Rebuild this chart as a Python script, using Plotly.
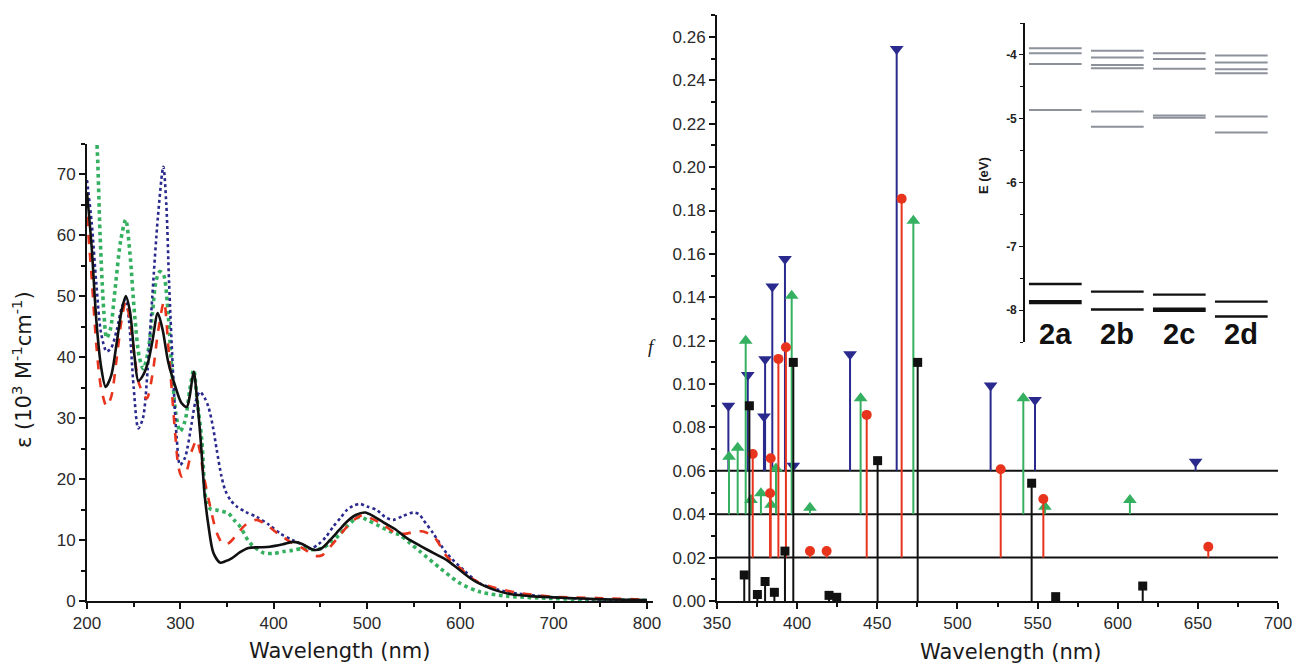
import plotly.graph_objects as go

# ---------------- Left panel: absorption spectra ----------------
wl_2a = [200, 205, 210, 215, 220, 226, 232, 237, 241.5, 246, 251, 255, 260, 265.7, 270, 275.8, 281, 287, 295, 301,
         306.8, 310, 314.3, 318, 322, 326, 330, 335.4, 342.5, 348, 355, 364, 372.9, 385, 396, 410, 421, 430, 442.6,
         451, 460.5, 470, 478.4, 488, 498, 508, 517.6, 530, 542.7, 560, 572, 585.5, 600, 614, 627, 639, 655, 675,
         700, 730, 760, 800]
eps_2a = [67, 58, 46, 38.5, 35.1, 37, 42.5, 47.5, 50.0, 47.5, 40, 36.1, 37, 39.3, 42.5, 47.2, 44.5, 39.2, 35, 32.5,
          31.8, 33.5, 37.6, 33, 26, 17.5, 12.5, 7.9, 6.3, 6.5, 7.0, 8.0, 8.7, 8.8, 8.9, 9.3, 9.7, 9.4, 8.4,
          8.6, 10.0, 11.6, 13.0, 14.1, 14.5, 13.8, 12.9, 11.8, 10.3, 8.8, 7.8, 6.7, 5.0, 3.4, 2.4, 1.7, 1.1, 0.8,
          0.6, 0.4, 0.25, 0.15]

wl_2b = [200, 205, 210, 215, 221, 226, 232, 237, 241.5, 246, 251, 256, 264, 270, 276, 282.5, 287, 294.3, 298, 301.5,
         306, 312, 317.6, 321, 324.7, 332, 339, 346, 352, 360, 370, 381.9, 392, 406.9, 420, 431.8, 444.4, 452, 464,
         472, 481.9, 490, 496.1, 505, 517.6, 530, 540, 550, 560.4, 573, 585.5, 599.8, 617.6, 639, 664, 700, 746, 800]
eps_2b = [63, 53, 42, 35, 31.9, 33.5, 40, 46, 49.1, 46, 40, 35.5, 33.2, 37, 44, 49.1, 42, 27.8, 22, 20.4,
          21, 24.5, 26.4, 24.5, 20.9, 15.5, 11.2, 9.3, 9.5, 10.8, 12.5, 13.3, 12.5, 10.8, 9.5, 8.6, 7.4, 7.5, 9.5,
          11, 12.7, 13.7, 14.1, 13.5, 12.5, 11.2, 11.0, 11.3, 11.4, 10.3, 7.3, 5.4, 3.2, 2.1, 1.3, 0.7, 0.5, 0.2]

wl_2c = [203, 206, 210.4, 214, 218, 221, 225, 230, 236, 241.5, 246, 251, 256, 260.3, 265, 270, 274, 278, 282, 286,
         290, 295, 299.7, 305, 310, 314.3, 318, 323, 328.3, 333, 339, 345, 351.4, 358, 364, 374.7, 389, 400, 410.4,
         420, 431.8, 442.6, 451, 460.5, 470, 478.4, 486, 492.6, 500, 510.5, 524.8, 535.5, 546, 557, 578.3, 599.8,
         621, 650, 685, 740, 800]
eps_2c = [90, 82, 75.6, 60, 47.5, 43.1, 44.5, 51, 59, 62.5, 57, 47, 40, 38.1, 40.5, 47, 52.5, 54, 53.5, 49,
          40, 31, 27.8, 29.5, 34.5, 37.9, 33, 26.4, 16.0, 15, 14.9, 14.7, 14.4, 13.2, 12.2, 9.5, 7.9, 7.8, 8.1,
          8.3, 8.6, 8.4, 8.6, 9.5, 10.8, 12.2, 13.3, 13.8, 13.3, 12.5, 11.4, 10.8, 9.5, 8.1, 5.4, 2.9,
          1.5, 0.8, 0.5, 0.2, 0.1]

wl_2d = [200, 205, 210, 215, 221, 226, 232, 237, 241.5, 245, 250, 255, 260, 265, 270, 276, 281.8, 285, 288, 292,
         296, 299.7, 305, 312, 316, 321, 326, 330, 335, 339, 344, 348, 354, 360.4, 370, 381.9, 395, 406.9, 420,
         431.8, 439, 448, 456, 464, 472, 478.4, 485, 492.6, 500, 510.5, 520, 528.3, 538, 549.7, 556, 560.4, 571,
         585.5, 603.4, 621, 650, 692.7, 740, 800]
eps_2d = [69, 62, 52, 44, 40.9, 41.5, 44.5, 48, 49.5, 46, 35, 28.3, 30, 38, 50, 63, 71.2, 65, 52, 38,
          27, 22.3, 23.5, 29, 32.5, 34.3, 33.3, 31.9, 28.5, 24.8, 20.5, 18.2, 16.5, 15.5, 14.6, 13.8, 12.5, 11.1, 10.0,
          9.2, 8.6, 9.3, 10.5, 12.2, 13.7, 14.9, 15.6, 15.9, 15.5, 14.9, 13.7, 13.3, 13.9, 14.5, 14.2, 13.3, 11.1,
          7.8, 5.1, 2.9, 1.5, 0.7, 0.3, 0.1]

# ---------------- Right panel: calculated transitions ----------------
baselines = [0.0, 0.02, 0.04, 0.06]

ex_2a = [367.0, 370.2, 375.2, 380.0, 385.8, 392.4, 397.6, 419.9, 424.7, 450.2, 475.2, 546.3, 561.3, 615.6]
f_2a = [0.012, 0.090, 0.003, 0.009, 0.004, 0.023, 0.110, 0.0026, 0.0017, 0.0647, 0.110, 0.0543, 0.002, 0.0069]

ex_2b = [372.3, 383.1, 383.5, 388.3, 393.0, 408.0, 418.4, 443.4, 465.2, 527.0, 553.6, 656.5]
f_2b = [0.0478, 0.0297, 0.0458, 0.0916, 0.097, 0.003, 0.003, 0.0658, 0.1654, 0.0407, 0.027, 0.005]

ex_2c = [357.5, 362.9, 367.9, 371.2, 377.4, 383.7, 386.8, 396.6, 408.0, 439.6, 472.5, 541.1, 554.6, 607.6]
f_2c = [0.0265, 0.0307, 0.080, 0.0066, 0.0097, 0.0044, 0.0211, 0.1007, 0.003, 0.0535, 0.1353, 0.0535, 0.0035, 0.0066]

ex_2d = [357.1, 369.2, 379.3, 380.0, 384.5, 392.4, 397.6, 433.0, 462.1, 520.7, 548.4, 648.6]
f_2d = [0.030, 0.0442, 0.025, 0.0515, 0.085, 0.0976, 0.0024, 0.0537, 0.1945, 0.0393, 0.0327, 0.0042]

# ---------------- Inset: orbital energies ----------------
compounds = ["2a", "2b", "2c", "2d"]
lumo_levels = [[-3.895, -3.973, -4.141, -4.862],
               [-3.933, -4.042, -4.157, -4.209, -4.888, -5.128],
               [-3.973, -4.063, -4.219, -4.95, -4.985],
               [-4.01, -4.12, -4.225, -4.287, -4.967, -5.218]]
homo_levels = [[-7.59, -7.86, -7.89],
               [-7.71, -7.99],
               [-7.757, -7.98, -8.01],
               [-7.867, -8.10]]
energy_ticks = [-8, -7, -6, -5, -4]
energy_tick_labels = ["-8", "-7", "-6", "-5", "-4"]

C_BLACK = "#111111"
C_RED = "#E8341C"
C_GREEN = "#35B060"
C_BLUE = "#2A2A8E"
C_GRAY = "#8C919A"

fig = go.Figure()

# Left panel curves
for wl, ep, col, dash, w in [(wl_2c, eps_2c, C_GREEN, "dot", 3.6),
                             (wl_2d, eps_2d, C_BLUE, "dot", 2.6),
                             (wl_2b, eps_2b, C_RED, "dash", 2.6),
                             (wl_2a, eps_2a, C_BLACK, "solid", 2.6)]:
    fig.add_trace(go.Scatter(x=wl, y=ep, mode="lines",
                             line=dict(color=col, dash=dash, width=w, shape="spline", smoothing=0.8),
                             xaxis="x", yaxis="y", showlegend=False, hoverinfo="skip"))

# Right panel: baselines
for b in baselines[1:]:
    fig.add_trace(go.Scatter(x=[350, 700], y=[b, b], mode="lines",
                             line=dict(color=C_BLACK, width=2),
                             xaxis="x2", yaxis="y2", showlegend=False, hoverinfo="skip"))

series = [(ex_2d, f_2d, baselines[3], C_BLUE, "triangle-down", 12),
          (ex_2c, f_2c, baselines[2], C_GREEN, "triangle-up", 12),
          (ex_2b, f_2b, baselines[1], C_RED, "circle", 10),
          (ex_2a, f_2a, baselines[0], C_BLACK, "square", 9)]
for ex, fv, base, col, sym, sz in series:
    sx, sy = [], []
    for xv, f in zip(ex, fv):
        sx += [xv, xv, None]
        sy += [base, base + f, None]
    fig.add_trace(go.Scatter(x=sx, y=sy, mode="lines", line=dict(color=col, width=2),
                             xaxis="x2", yaxis="y2", showlegend=False, hoverinfo="skip"))
    fig.add_trace(go.Scatter(x=ex, y=[base + f for f in fv], mode="markers",
                             marker=dict(color=col, symbol=sym, size=sz, line=dict(width=0)),
                             cliponaxis=False,
                             xaxis="x2", yaxis="y2", showlegend=False, hoverinfo="skip"))

# Inset levels
for i, name in enumerate(compounds):
    x0, x1 = i + 0.08, i + 0.93
    for e in lumo_levels[i]:
        fig.add_trace(go.Scatter(x=[x0, x1], y=[e, e], mode="lines", line=dict(color=C_GRAY, width=2),
                                 xaxis="x3", yaxis="y3", showlegend=False, hoverinfo="skip"))
    for e in homo_levels[i]:
        fig.add_trace(go.Scatter(x=[x0, x1], y=[e, e], mode="lines", line=dict(color=C_BLACK, width=2.4),
                                 xaxis="x3", yaxis="y3", showlegend=False, hoverinfo="skip"))

W, H = 1295, 665
def px_x(p):
    return p / W
def px_y(p):
    return 1 - p / H

tickfont = dict(family="Liberation Sans, Arial, sans-serif", size=17, color="#2a2a2a")
axis_common = dict(showline=True, linecolor="#111111", linewidth=2, ticks="outside", ticklen=6,
                   tickwidth=1.6, tickcolor="#111111", showgrid=False, zeroline=False, tickfont=tickfont,
                   automargin=False)

fig.update_layout(
    template="none",
    width=W, height=H, margin=dict(l=0, r=0, t=0, b=0, pad=0, autoexpand=False),
    paper_bgcolor="white", plot_bgcolor="rgba(0,0,0,0)",
    xaxis=dict(domain=[px_x(87), px_x(653)], range=[200, 806.5], anchor="y", dtick=100, tick0=200,
               minor=dict(dtick=50, ticks="outside", ticklen=4, tickcolor="#111111"), **axis_common),
    yaxis=dict(domain=[px_y(601), px_y(143.5)], range=[0, 75], anchor="x", dtick=10, tick0=0,
               minor=dict(dtick=5, ticks="outside", ticklen=4, tickcolor="#111111"), **axis_common),
    xaxis2=dict(domain=[px_x(717), px_x(1278)], range=[350, 700], anchor="y2", dtick=50, tick0=350,
                minor=dict(dtick=25, ticks="outside", ticklen=4, tickcolor="#111111"), **axis_common),
    yaxis2=dict(domain=[px_y(601), px_y(15.3)], range=[0, 0.27], anchor="x2", dtick=0.02, tick0=0,
                tickformat=".2f",
                minor=dict(dtick=0.01, ticks="outside", ticklen=4, tickcolor="#111111"), **axis_common),
    xaxis3=dict(domain=[px_x(1024), px_x(1272)], range=[0, 4], anchor="y3", visible=False, automargin=False),
    yaxis3=dict(domain=[px_y(342), px_y(23)], range=[-8.5, -3.5], anchor="free", position=px_x(1024),
                tickvals=energy_ticks, ticktext=["<b>%s</b>" % t for t in energy_tick_labels],
                showline=True, linecolor="#111111", linewidth=1.6, automargin=False,
                ticks="outside", ticklen=4, tickwidth=1.3, tickcolor="#111111", showgrid=False, zeroline=False,
                tickfont=dict(family="Liberation Sans, Arial, sans-serif", size=12, color="#222222"),
                minor=dict(tickvals=[-8.5, -7.5, -6.5, -5.5, -4.5, -3.5], ticks="outside", ticklen=3,
                           tickcolor="#111111")),
)

ann_font = dict(family="DejaVu Sans, sans-serif", color="#1a1a1a")
common_anchor = dict(xanchor="center", yanchor="middle", showarrow=False)
fig.add_annotation(text="Wavelength (nm)", x=px_x(340), y=px_y(651), xref="paper", yref="paper",
                   font=dict(size=21, **ann_font), **common_anchor)
fig.add_annotation(text="Wavelength (nm)", x=px_x(1010), y=px_y(652), xref="paper", yref="paper",
                   font=dict(size=21, **ann_font), **common_anchor)
fig.add_annotation(text="ε (10<sup>3</sup> M<sup>-1</sup>cm<sup>-1</sup>)", x=px_x(22), y=px_y(370),
                   xref="paper", yref="paper", textangle=-90, font=dict(size=21, **ann_font), **common_anchor)
fig.add_annotation(text="<i>f</i>", x=px_x(652), y=px_y(346), xref="paper", yref="paper",
                   font=dict(size=19, family="Liberation Serif, serif", color="#1a1a1a"), **common_anchor)
fig.add_annotation(text="<b>E (eV)</b>", x=px_x(983), y=px_y(176), xref="paper", yref="paper",
                   textangle=-90, font=dict(size=13, family="Liberation Sans, Arial, sans-serif", color="#1a1a1a"),
                   **common_anchor)
for i, name in enumerate(compounds):
    fig.add_annotation(text="<b>%s</b>" % name, x=i + 0.5, y=-8.37, xref="x3", yref="y3",
                       font=dict(size=29, family="Liberation Sans, Arial, sans-serif", color="#111111"),
                       **common_anchor)

fig.write_html("out.html", config={"displayModeBar": False},
               post_script="document.body.style.margin='0';document.body.style.padding='0';")
